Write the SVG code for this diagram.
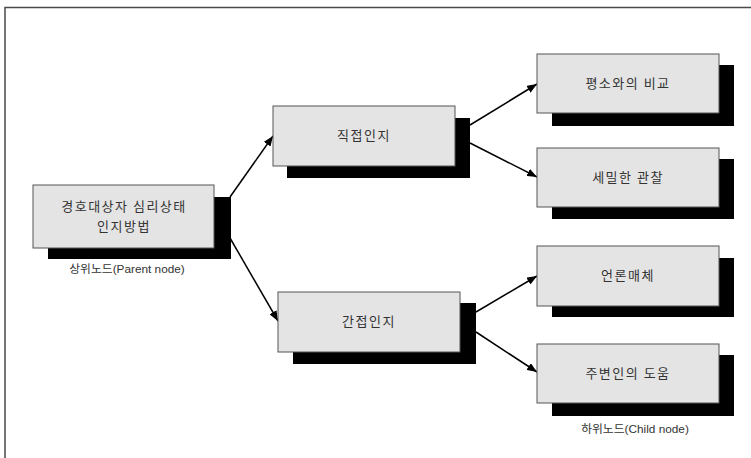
<svg xmlns="http://www.w3.org/2000/svg" width="751" height="458" viewBox="0 0 751 458">
<style>
.frame{fill:none;stroke:#4a4a4a;stroke-width:1.5}
.box{fill:#e4e4e4;stroke:#555;stroke-width:1}
.shadow{fill:#000}
.t{font-family:"Noto Sans CJK KR","Liberation Sans",sans-serif;font-size:13px;fill:#333;text-anchor:middle;letter-spacing:1.5px}
.lbl{font-family:"Liberation Sans","Noto Sans CJK KR",sans-serif;font-size:11.8px;fill:#333;text-anchor:middle}
.conn{stroke:#000;stroke-width:1.5;fill:none}
</style>
<defs>
<marker id="arr" viewBox="0 0 10 8" refX="10" refY="4" markerWidth="10" markerHeight="8" markerUnits="userSpaceOnUse" orient="auto">
<path d="M0,0 L10,4 L0,8 Z" fill="#000"/>
</marker>
</defs>
<rect width="751" height="458" fill="#fff"/>
<rect class="frame" x="5" y="7.5" width="800" height="500"/>
<g id="connectors">
<line class="conn" x1="230" y1="197" x2="273" y2="136" marker-end="url(#arr)"/>
<line class="conn" x1="230" y1="238" x2="278" y2="321" marker-end="url(#arr)"/>
<line class="conn" x1="470" y1="125" x2="537" y2="84" marker-end="url(#arr)"/>
<line class="conn" x1="470" y1="143" x2="537" y2="177" marker-end="url(#arr)"/>
<line class="conn" x1="476" y1="312" x2="537" y2="276" marker-end="url(#arr)"/>
<line class="conn" x1="476" y1="332" x2="537" y2="372" marker-end="url(#arr)"/>
</g>
<g id="parent">
<rect class="shadow" x="48" y="197" width="183" height="62"/>
<rect class="box" x="33" y="185" width="181" height="63"/>
<text class="t" x="124" y="211">경호대상자 심리상태</text>
<text class="t" x="124" y="230.5">인지방법</text>
<text class="lbl" x="127" y="273">상위노드(Parent node)</text>
</g>
<g id="direct">
<rect class="shadow" x="287" y="118" width="183" height="60"/>
<rect class="box" x="273" y="106" width="182" height="60"/>
<text class="t" x="364" y="140">직접인지</text>
</g>
<g id="indirect">
<rect class="shadow" x="293" y="303" width="183" height="61"/>
<rect class="box" x="278" y="292" width="182" height="60"/>
<text class="t" x="369" y="326">간접인지</text>
</g>
<g id="compare">
<rect class="shadow" x="552" y="65" width="182" height="61"/>
<rect class="box" x="537" y="54" width="182" height="59"/>
<text class="t" x="628" y="88">평소와의 비교</text>
</g>
<g id="observe">
<rect class="shadow" x="552" y="159" width="182" height="60"/>
<rect class="box" x="537" y="148" width="182" height="59"/>
<text class="t" x="628" y="182">세밀한 관찰</text>
</g>
<g id="media">
<rect class="shadow" x="552" y="258" width="182" height="59"/>
<rect class="box" x="537" y="246" width="182" height="60"/>
<text class="t" x="628" y="280">언론매체</text>
</g>
<g id="others">
<rect class="shadow" x="552" y="355" width="182" height="61"/>
<rect class="box" x="537" y="344" width="182" height="59"/>
<text class="t" x="628" y="378">주변인의 도움</text>
<text class="lbl" x="635" y="433">하위노드(Child node)</text>
</g>
</svg>
